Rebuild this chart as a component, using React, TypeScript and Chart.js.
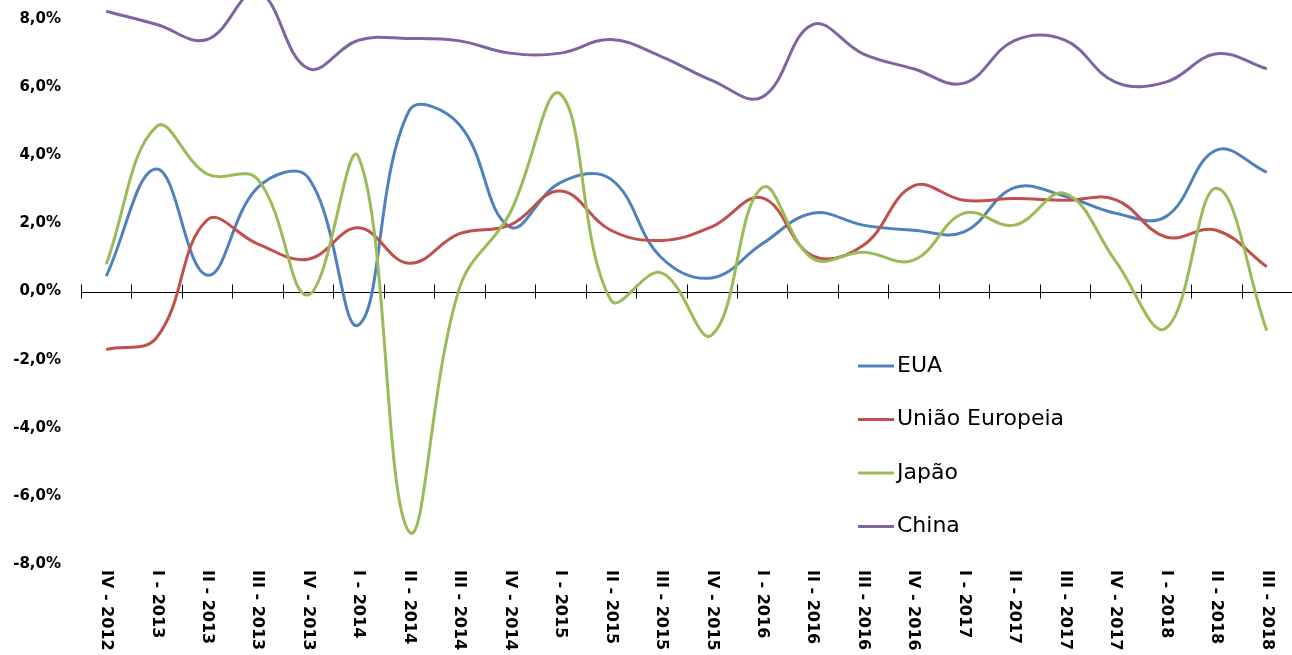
import React, { useEffect, useRef } from "react";
import { Chart, registerables } from "chart.js";

Chart.register(...registerables);

const categories = [
  "IV - 2012", "I - 2013", "II - 2013", "III - 2013", "IV - 2013",
  "I - 2014", "II - 2014", "III - 2014", "IV - 2014",
  "I - 2015", "II - 2015", "III - 2015", "IV - 2015",
  "I - 2016", "II - 2016", "III - 2016", "IV - 2016",
  "I - 2017", "II - 2017", "III - 2017", "IV - 2017",
  "I - 2018", "II - 2018", "III - 2018",
];

const eua = [0.45, 3.6, 0.48, 3.05, 3.35, -0.98, 5.3, 4.9, 1.9, 3.2, 3.3, 1.0, 0.4, 1.4, 2.3, 1.95, 1.8, 1.75, 3.05, 2.8, 2.3, 2.2, 4.15, 3.5];
const uniaoEuropeia = [-1.7, -1.35, 2.1, 1.4, 0.95, 1.87, 0.83, 1.7, 1.95, 2.95, 1.8, 1.5, 1.9, 2.75, 1.05, 1.35, 3.1, 2.68, 2.73, 2.68, 2.7, 1.6, 1.8, 0.73];
const japao = [0.8, 4.85, 3.45, 3.3, -0.1, 3.95, -7.05, 0.1, 2.3, 5.8, -0.25, 0.55, -1.28, 3.05, 0.97, 1.15, 0.92, 2.3, 1.95, 2.88, 0.9, -1.08, 3.03, -1.15];
const china = [8.23, 7.84, 7.4, 8.8, 6.55, 7.38, 7.43, 7.36, 7.0, 7.0, 7.4, 6.9, 6.2, 5.71, 7.84, 6.98, 6.54, 6.12, 7.37, 7.38, 6.15, 6.15, 6.98, 6.54];

const seriesNames = ["EUA", "União Europeia", "Japão", "China"];
const seriesColors = ["#4F81BD", "#C0504D", "#9BBB59", "#8064A2"];

const yMin = -8;
const yMax = 8.56;
const yStep = 2;

const zeroAxisPlugin = {
  id: "zeroAxis",
  beforeDatasetsDraw(chart: any) {
    const { ctx, chartArea, scales } = chart;
    const x = scales.x;
    const y = scales.y;
    const y0 = y.getPixelForValue(0);
    const half = (x.getPixelForValue(1) - x.getPixelForValue(0)) / 2;
    ctx.save();
    ctx.strokeStyle = "#000";
    ctx.lineWidth = 1;
    ctx.beginPath();
    ctx.moveTo(chartArea.left, Math.round(y0) + 0.5);
    ctx.lineTo(chart.width, Math.round(y0) + 0.5);
    for (let i = 0; i <= categories.length; i++) {
      const px = Math.round(x.getPixelForValue(i) - half) + 0.5;
      ctx.moveTo(px, y0 - 7);
      ctx.lineTo(px, y0 + 7);
    }
    ctx.stroke();
    ctx.restore();
  },
  afterDraw(chart: any) {
    const { ctx, chartArea, scales } = chart;
    const x = scales.x;
    ctx.save();
    ctx.fillStyle = "#000";
    ctx.font = "bold 16px 'DejaVu Sans'";
    ctx.textAlign = "left";
    ctx.textBaseline = "middle";
    categories.forEach((label, i) => {
      const px = x.getPixelForValue(i);
      ctx.save();
      ctx.translate(px, chartArea.bottom + 6);
      ctx.rotate(Math.PI / 2);
      ctx.fillText(label, 0, 0);
      ctx.restore();
    });
    // legend
    const lx = 858;
    const rows = [366, 419.5, 473, 526.5];
    ctx.font = "22px 'DejaVu Sans'";
    seriesNames.forEach((name, i) => {
      const ly = rows[i];
      ctx.strokeStyle = seriesColors[i];
      ctx.lineWidth = 3;
      ctx.beginPath();
      ctx.moveTo(lx, ly);
      ctx.lineTo(lx + 36, ly);
      ctx.stroke();
      ctx.fillStyle = "#000";
      ctx.fillText(name, lx + 39, ly);
    });
    ctx.restore();
  },
};

export default function App() {
  const ref = useRef<HTMLCanvasElement | null>(null);
  useEffect(() => {
    if (!ref.current) return;
    const values = [eua, uniaoEuropeia, japao, china];
    const chart = new Chart(ref.current, {
      type: "line",
      data: {
        labels: categories,
        datasets: seriesNames.map((name, i) => ({
          label: name,
          data: values[i],
          borderColor: seriesColors[i],
          backgroundColor: seriesColors[i],
          borderWidth: 3,
          pointRadius: 0,
          tension: 0.4,
          fill: false,
          order: 3 - i,
        })),
      },
      options: {
        responsive: false,
        animation: false,
        layout: { padding: { top: 0, left: 0, right: -5, bottom: 91 } },
        plugins: { legend: { display: false }, tooltip: { enabled: false } },
        scales: {
          x: {
            type: "category",
            display: false,
            offset: true,
          },
          y: {
            min: yMin,
            max: yMax,
            grid: { display: false, drawTicks: false },
            border: { display: false },
            afterBuildTicks: (scale: any) => {
              scale.ticks = scale.ticks.filter((t: any) => Math.abs(t.value / yStep - Math.round(t.value / yStep)) < 1e-6);
            },
            afterFit: (scale: any) => {
              scale.width = 81;
              scale.paddingTop = 0;
              scale.paddingBottom = 0;
            },
            ticks: {
              stepSize: yStep,
              padding: 20,
              color: "#000",
              font: { family: "'DejaVu Sans'", size: 15, weight: "bold" },
              callback: (v: any) => Number(v).toFixed(1).replace(".", ",") + "%",
            },
          },
        },
      },
      plugins: [zeroAxisPlugin],
    });
    return () => chart.destroy();
  }, []);
  return (
    <div style={{ position: "fixed", left: 0, top: 0, width: 1292, height: 655, background: "#fff" }}>
      <canvas ref={ref} width={1292} height={655} style={{ display: "block" }} />
    </div>
  );
}
